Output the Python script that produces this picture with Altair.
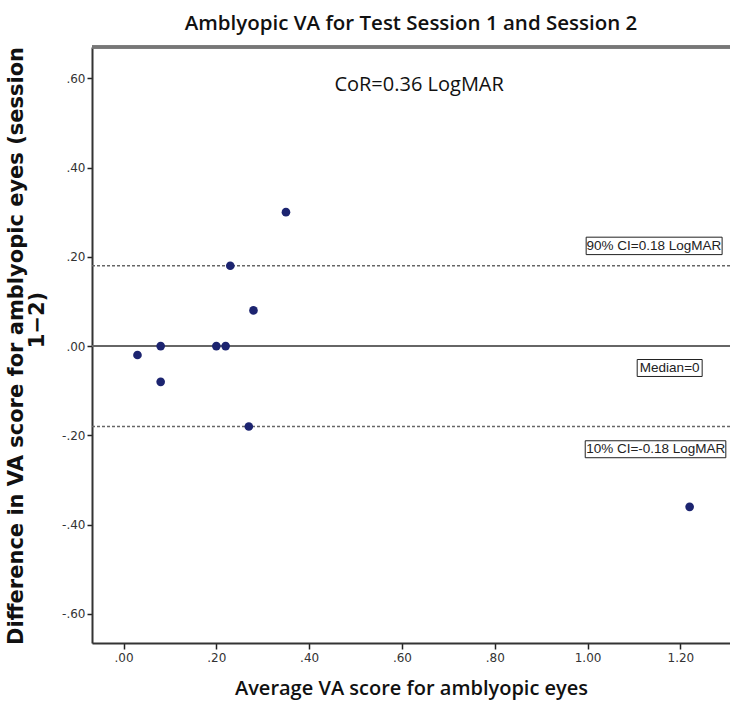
import altair as alt
import pandas as pd

# data
avg_va = [0.35, 0.23, 0.28, 0.08, 0.03, 0.20, 0.22, 0.08, 0.27, 1.22]
diff_va = [0.30, 0.18, 0.08, 0.00, -0.02, 0.00, 0.00, -0.08, -0.18, -0.36]

ref_solid = [0.0]
ref_dashed = [0.18, -0.18]

box_labels = ["90% CI=0.18 LogMAR", "Median=0", "10% CI=-0.18 LogMAR"]
box_x = [1.143, 1.177, 1.147]
box_y = [0.2245, -0.049, -0.231]
box_x1 = [0.997, 1.107, 0.995]
box_x2 = [1.290, 1.247, 1.298]
box_y1 = [0.244, -0.030, -0.212]
box_y2 = [0.205, -0.068, -0.250]

cor_label = ["CoR=0.36 LogMAR"]
cor_x = [0.637]
cor_y = [0.584]

y_title_lines = ["Difference in VA score for amblyopic eyes (session", "1\u22122)"]

x_ticks = [0.0, 0.2, 0.4, 0.6, 0.8, 1.0, 1.2]
y_ticks = [-0.6, -0.4, -0.2, 0.0, 0.2, 0.4, 0.6]

W, H = 638, 596
x_dom = [-0.068, 1.307]
y_dom = [-0.665, 0.67]

pts = pd.DataFrame({"x": avg_va, "y": diff_va})
boxes = pd.DataFrame({"label": box_labels, "x": box_x, "y": box_y,
                      "x1": box_x1, "x2": box_x2, "y1": box_y1, "y2": box_y2})
cor = pd.DataFrame({"label": cor_label, "x": cor_x, "y": cor_y})

lbl = "replace(replace(format(datum.value, '.2f'), '0.', '.'), '\u2212', '-')"

xs = alt.Scale(domain=x_dom, nice=False, zero=False)
ys = alt.Scale(domain=y_dom, nice=False, zero=False)

x_enc = alt.X("x:Q", scale=xs, axis=alt.Axis(
    values=x_ticks, labelExpr=lbl, title="Average VA score for amblyopic eyes",
    grid=False, domain=True, domainColor="#333", domainWidth=2,
    tickColor="#222", tickSize=6, tickWidth=1.5, labelPadding=3,
    labelFont="DejaVu Sans", labelFontSize=12, labelColor="#333",
    titleFont="Open Sans", titleFontSize=20, titleFontWeight=600, titleColor="#111",
    titlePadding=15))
y_enc = alt.Y("y:Q", scale=ys, axis=alt.Axis(
    values=y_ticks, labelExpr=lbl, title=None,
    grid=False, domain=True, domainColor="#333", domainWidth=2,
    tickColor="#222", tickSize=5, tickWidth=1.5, labelPadding=2,
    labelFont="DejaVu Sans", labelFontSize=12, labelColor="#333"))

base = alt.Chart(pts)

points = base.mark_circle(size=75, color="#1c2470", opacity=1).encode(x=x_enc, y=y_enc)

solid = alt.Chart(pd.DataFrame({"y": ref_solid})).mark_rule(
    color="#666", strokeWidth=2).encode(y=alt.Y("y:Q", scale=ys))
dashed = alt.Chart(pd.DataFrame({"y": ref_dashed})).mark_rule(
    color="#666", strokeWidth=1.5, strokeDash=[3, 2]).encode(y=alt.Y("y:Q", scale=ys))

topline = alt.Chart(pts).mark_rule(color="#777", strokeWidth=2.5).encode(
    x=alt.value(0), x2=alt.value(W), y=alt.value(0))

rects = alt.Chart(boxes).mark_rect(fill="white", stroke="#222", strokeWidth=1).encode(
    x=alt.X("x1:Q", scale=xs), x2="x2:Q", y=alt.Y("y1:Q", scale=ys), y2="y2:Q")
texts = alt.Chart(boxes).mark_text(font="Liberation Sans", fontSize=13.5, color="#222",
                                   align="center", baseline="middle").encode(
    x=alt.X("x:Q", scale=xs), y=alt.Y("y:Q", scale=ys), text="label:N")

cor_text = alt.Chart(cor).mark_text(font="Open Sans", fontSize=20, color="#111",
                                    align="center", baseline="middle").encode(
    x=alt.X("x:Q", scale=xs), y=alt.Y("y:Q", scale=ys), text="label:N")

ytitle_style = dict(font="DejaVu Sans", fontSize=21, fontWeight="bold", color="#111",
                    angle=270, align="center", baseline="middle")
ytitle1 = alt.Chart(pd.DataFrame({"t": [y_title_lines[0]]})).mark_text(**ytitle_style).encode(
    x=alt.value(-75), y=alt.value(H / 2 + 1), text="t:N")
ytitle2 = alt.Chart(pd.DataFrame({"t": [y_title_lines[1]]})).mark_text(**ytitle_style).encode(
    x=alt.value(-54), y=alt.value(H / 2 - 25), text="t:N")

chart = alt.layer(solid, dashed, topline, points, rects, texts, cor_text,
                  ytitle1, ytitle2).properties(
    width=W, height=H,
    title=alt.TitleParams("Amblyopic VA for Test Session 1 and Session 2",
                          font="Open Sans", fontSize=20.5, fontWeight=600, color="#111",
                          anchor="middle", offset=11),
    autosize=alt.AutoSizeParams(type="none"),
    padding={"left": 92, "top": 47, "right": 0, "bottom": 61},
).configure_view(stroke=None).configure(background="white")

chart.save("out.html", embed_options={"renderer": "svg", "actions": False})
